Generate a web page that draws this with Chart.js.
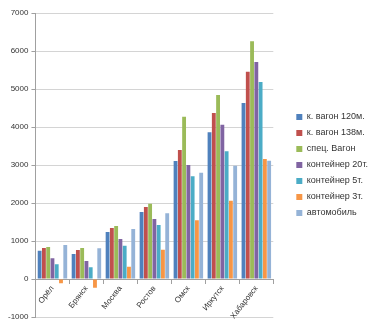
<!DOCTYPE html>
<html>
<head>
<meta charset="utf-8">
<script src="https://cdn.jsdelivr.net/npm/chart.js@4"></script>
<style>
  html, body { margin: 0; padding: 0; background: #fff; }
  #wrap { width: 370px; height: 335px; }
</style>
</head>
<body>
<div id="wrap"><canvas id="costChart"></canvas></div>
<script>
const cities = ['Орёл', 'Брянск', 'Москва', 'Ростов', 'Омск', 'Иркутск', 'Хабаровск'];

const wagon120 = [745, 658, 1237, 1763, 3105, 3860, 4632];
const wagon138 = [815, 763, 1342, 1895, 3395, 4368, 5456];
const specWagon = [842, 815, 1395, 1982, 4272, 4842, 6254];
const cont20 = [544, 474, 1053, 1579, 3000, 4061, 5711];
const cont5 = [386, 307, 877, 1421, 2702, 3360, 5184];
const cont3 = [-114, -228, 325, 772, 1544, 2061, 3158];
const auto = [895, 807, 1316, 1728, 2798, 2980, 3114];

const seriesNames = ['к. вагон 120м.', 'к. вагон 138м.', 'спец. Вагон', 'контейнер 20т.', 'контейнер 5т.', 'контейнер 3т.', 'автомобиль'];
const seriesData = [wagon120, wagon138, specWagon, cont20, cont5, cont3, auto];
const seriesColors = ['#4f81bd', '#c0504d', '#9bbb59', '#8064a2', '#4bacc6', '#f79646', '#95b3d7'];

const font = { family: 'Liberation Sans', size: 8 };
const legendFont = { family: 'Liberation Sans', size: 9 };
const legendExtraWidth = 8;  // extra room reserved for the legend
const legendShiftX = 16;     // how far the legend items are pushed right

// widen the legend box and push its items right, so the plot ends earlier
const legendShift = {
    id: 'legendShift',
    beforeLayout(chart) {
        const lg = chart.legend;
        if (lg && !lg._widened) {
            const fit = lg.fit;
            lg.fit = function () {
                fit.call(this);
                this.width += legendExtraWidth;
            };
            lg._widened = true;
        }
    },
    afterLayout(chart) {
        if (chart.legend) {
            chart.legend.left += legendShiftX;
        }
    }
};

const ctx = document.getElementById('costChart').getContext('2d');
const costChart = new Chart(ctx, {
    type: 'bar',
    data: {
        labels: cities,
        datasets: seriesNames.map((name, i) => ({
            label: name,
            data: seriesData[i],
            backgroundColor: seriesColors[i],
            borderWidth: 0,
            categoryPercentage: 0.88,
            barPercentage: 0.9
        }))
    },
    options: {
        responsive: true,
        maintainAspectRatio: false,
        animation: false,
        layout: {
            padding: { top: 13, right: 0, bottom: 18, left: 5 }
        },
        plugins: {
            legend: {
                position: 'right',
                labels: {
                    boxWidth: 6,
                    boxHeight: 6,
                    padding: 7,
                    color: '#333',
                    font: legendFont
                }
            },
            tooltip: { enabled: false }
        },
        scales: {
            x: {
                position: { y: 0 },
                border: { color: '#a0a0a0' },
                grid: {
                    offset: true,
                    drawOnChartArea: false,
                    tickLength: 4,
                    color: '#a0a0a0'
                },
                ticks: {
                    minRotation: 52,
                    maxRotation: 52,
                    color: '#333',
                    font: font,
                    padding: 1
                }
            },
            y: {
                min: -1000,
                max: 7000,
                border: { color: '#a0a0a0' },
                grid: {
                    color: '#d4d4d4',
                    tickLength: 4,
                    tickColor: '#a0a0a0'
                },
                ticks: {
                    stepSize: 1000,
                    color: '#333',
                    font: font,
                    padding: 3,
                    callback: (v) => String(v)
                }
            }
        }
    },
    plugins: [legendShift]
});
</script>
</body>
</html>
